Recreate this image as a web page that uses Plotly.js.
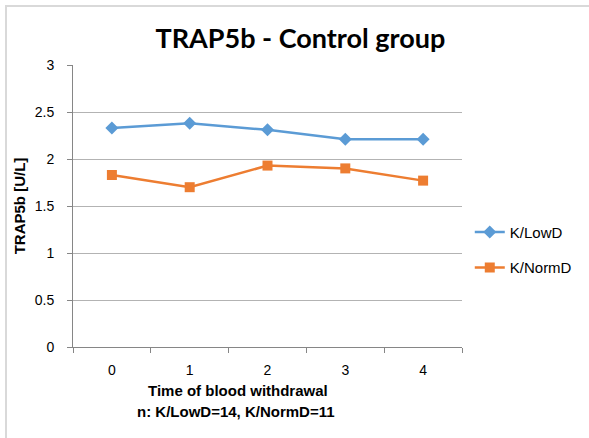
<!DOCTYPE html>
<html><head><meta charset="utf-8">
<script src="https://cdn.plot.ly/plotly-3.0.1.min.js"></script>
<style>
html,body{margin:0;padding:0;background:#fff;}
#chart{width:589px;height:438px;position:absolute;left:0;top:0;}
#frame{position:absolute;left:5px;top:5px;width:600px;height:450px;border-left:2px solid #d9d9d9;border-top:2px solid #d9d9d9;pointer-events:none;}
</style></head>
<body>
<div id="chart"></div>
<div id="frame"></div>
<script>
const categories = ["0", "1", "2", "3", "4"];
const lowD = [2.33, 2.38, 2.31, 2.21, 2.21];
const normD = [1.83, 1.70, 1.93, 1.90, 1.77];
const seriesNames = ["K/LowD", "K/NormD"];
const yTicks = [0, 0.5, 1, 1.5, 2, 2.5, 3];
const yTickText = ["0", "0.5", "1", "1.5", "2", "2.5", "3"];

const traces = [
  {x: categories, y: lowD, name: seriesNames[0], type: "scatter", mode: "lines+markers",
   line: {color: "#5b9bd5", width: 2.5}, marker: {symbol: "diamond", size: 10, color: "#5b9bd5"},
   legendgroup: "a"},
  {x: categories, y: normD, name: seriesNames[1], type: "scatter", mode: "lines+markers",
   line: {color: "#ed7d31", width: 2.5}, marker: {symbol: "square", size: 10, color: "#ed7d31"},
   legendgroup: "b"}
];

const layout = {
  width: 589, height: 438,
  margin: {l: 73, r: 125, t: 65, b: 91},
  paper_bgcolor: "#fff", plot_bgcolor: "#fff",
  font: {family: "Liberation Sans, Arial, sans-serif", size: 14, color: "#000"},
  title: {text: "<b>TRAP5b - Control group</b>", font: {family: "Lato, Open Sans, sans-serif", size: 27, color: "#000"},
          x: 0.51, xanchor: "center", y: 0.912, yanchor: "middle"},
  xaxis: {type: "category", range: [-0.5, 4.5], tickson: "boundaries", ticks: "outside", ticklen: 5,
          tickcolor: "#868686", showline: true, linecolor: "#868686", linewidth: 1,
          showgrid: false, zeroline: false, tickfont: {size: 14}, ticklabelstandoff: 10, fixedrange: true},
  yaxis: {range: [0, 3], tickvals: yTicks, ticktext: yTickText, ticks: "outside", ticklen: 5,
          tickcolor: "#868686", showline: true, linecolor: "#868686", linewidth: 1,
          showgrid: true, gridcolor: "#b3b3b3", gridwidth: 1, zeroline: false,
          tickfont: {size: 14}, ticklabelstandoff: 10,
          title: {text: "<b>TRAP5b [U/L]</b>", font: {size: 15}, standoff: 5}},
  legend: {x: 1.02, xanchor: "left", y: 0.345, yanchor: "middle", font: {size: 15},
           traceorder: "grouped", tracegroupgap: 13, bgcolor: "rgba(0,0,0,0)", itemwidth: 30},
  annotations: [
    {xref: "paper", yref: "paper", x: 0.425, y: -0.117, xanchor: "center", yanchor: "top", showarrow: false,
     text: "<b>Time of blood withdrawal</b>", font: {size: 15}},
    {xref: "paper", yref: "paper", x: 0.42, y: -0.192, xanchor: "center", yanchor: "top", showarrow: false,
     text: "<b>n: K/LowD=14, K/NormD=11</b>", font: {size: 15}}
  ],
  showlegend: true
};
Plotly.newPlot("chart", traces, layout, {displayModeBar: false, staticPlot: true});
</script>
</body></html>
